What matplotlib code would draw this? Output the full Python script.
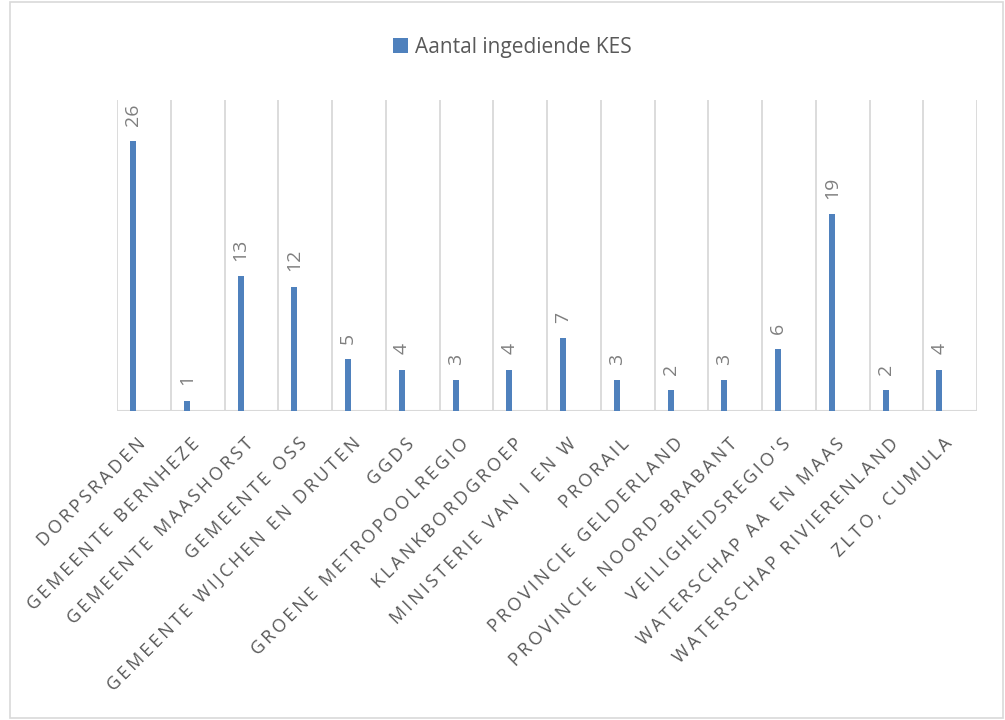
import matplotlib
matplotlib.use("Agg")
import matplotlib.pyplot as plt
from matplotlib.patches import Rectangle
from matplotlib.transforms import ScaledTranslation

categories = ["DORPSRADEN", "GEMEENTE BERNHEZE", "GEMEENTE MAASHORST", "GEMEENTE OSS",
              "GEMEENTE WIJCHEN EN DRUTEN", "GGDS", "GROENE METROPOOLREGIO", "KLANKBORDGROEP",
              "MINISTERIE VAN I EN W", "PRORAIL", "PROVINCIE GELDERLAND", "PROVINCIE NOORD-BRABANT",
              "VEILIGHEIDSREGIO'S", "WATERSCHAP AA EN MAAS", "WATERSCHAP RIVIERENLAND", "ZLTO, CUMULA"]
values = [26, 1, 13, 12, 5, 4, 3, 4, 7, 3, 2, 3, 6, 19, 2, 4]
series_name = "Aantal ingediende KES"

plt.rcParams['font.family'] = ['Open Sans', 'DejaVu Sans']
bar_color = "#4f81bd"
grid_color = "#d9d9d9"

fig = plt.figure(figsize=(10.05, 7.2), dpi=100)
ax = fig.add_axes([117/1005, 1 - 411/720, (977-117)/1005, (411-100)/720])

x = list(range(len(categories)))
bar_offset = -0.2
bx = [xi + bar_offset for xi in x]
bars = ax.bar(bx, values, width=0.11, color=bar_color, label=series_name, zorder=3)
ax.set_xlim(-0.5, len(categories) - 0.5)
ax.set_ylim(0, 30)

for i in range(len(categories) + 1):
    ax.axvline(i - 0.5, color=grid_color, lw=1.3, zorder=1)
ax.axhline(0, color=grid_color, lw=1.5, zorder=2)

for s in ax.spines.values():
    s.set_visible(False)
ax.set_yticks([])
ax.set_xticks(x)
ax.tick_params(axis='x', length=0, pad=17)

def spaced(t):
    return "\u2009".join(t)

ax.set_xticklabels([spaced(c) for c in categories], rotation=45, ha='right',
                   rotation_mode='anchor', fontsize=13, color="#595959")
shift = ScaledTranslation(-7/100, 0, fig.dpi_scale_trans)
for lbl in ax.get_xticklabels():
    lbl.set_transform(lbl.get_transform() + shift)

for xi, v in zip(bx, values):
    ax.annotate(str(v), (xi, v), xytext=(0, 11), textcoords='offset points',
                rotation=90, ha='center', va='bottom', fontsize=14, color="#7f7f7f")

leg = fig.legend(handles=[bars], labels=[series_name], loc='center',
                 bbox_to_anchor=(0.51, 1 - 47/720), frameon=False, fontsize=15,
                 handlelength=0.7, handleheight=0.7, handletextpad=0.35)
for t in leg.get_texts():
    t.set_color("#595959")

fig.patches.append(Rectangle((10/1005, 2/720), (1003-10)/1005, (718-2)/720,
                             transform=fig.transFigure, fill=False,
                             edgecolor=grid_color, lw=1.2))

fig.savefig("out.png", dpi=100, facecolor="white")
